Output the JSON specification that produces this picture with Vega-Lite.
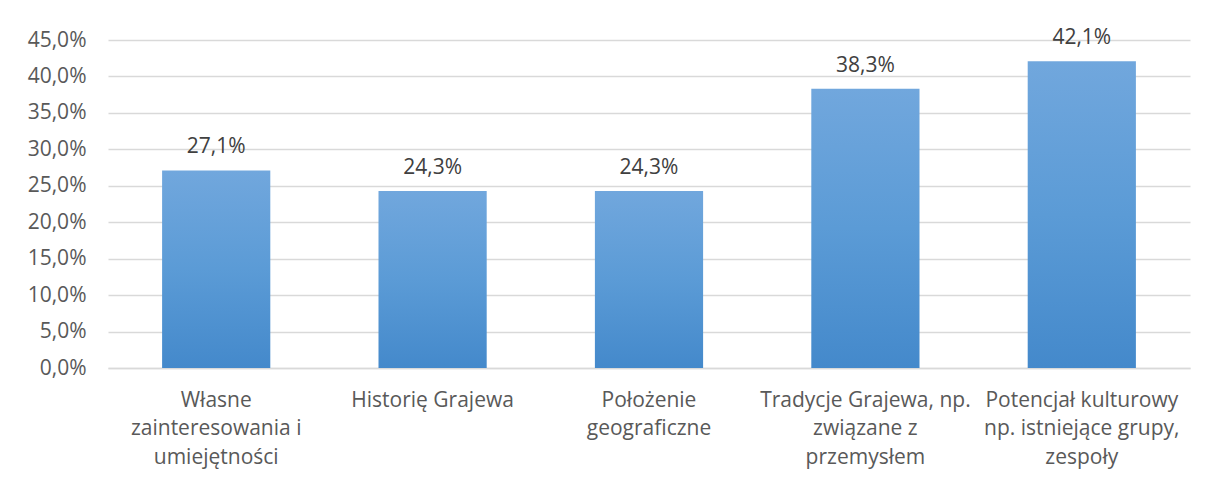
{
  "$schema": "https://vega.github.io/schema/vega-lite/v6.json",
  "width": 1082,
  "height": 328,
  "autosize": {"type": "none"},
  "padding": {"left": 108, "top": 40, "right": 18, "bottom": 114},
  "background": "white",
  "config": {
    "view": {"stroke": null},
    "font": "Open Sans",
    "locale": {
      "number": {"decimal": ",", "thousands": " ", "grouping": [3], "currency": ["", " zł"], "percent": "%"}
    }
  },
  "data": {
    "values": [
      {"kat": "Własne\nzainteresowania i\numiejętności", "v": 0.271},
      {"kat": "Historię Grajewa", "v": 0.243},
      {"kat": "Położenie\ngeograficzne", "v": 0.243},
      {"kat": "Tradycje Grajewa, np.\nzwiązane z\nprzemysłem", "v": 0.383},
      {"kat": "Potencjał kulturowy\nnp. istniejące grupy,\nzespoły", "v": 0.421}
    ]
  },
  "encoding": {
    "x": {
      "field": "kat", "type": "nominal", "sort": null,
      "scale": {"paddingInner": 0.5, "paddingOuter": 0.25},
      "axis": {
        "title": null, "labelAngle": 0, "ticks": false,
        "domainColor": "#d9d9d9", "domainWidth": 1.5,
        "labelColor": "#595959", "labelFontSize": 21, "labelPadding": 21,
        "labelLimit": 300, "labelLineHeight": 28.5,
        "labelExpr": "split(datum.value, '\\n')"
      }
    },
    "y": {
      "field": "v", "type": "quantitative",
      "scale": {"domain": [0, 0.45]},
      "axis": {
        "title": null, "values": [0, 0.05, 0.1, 0.15, 0.2, 0.25, 0.3, 0.35, 0.4, 0.45],
        "format": ".1%", "labelOverlap": false,
        "ticks": false, "domain": false,
        "gridColor": "#d9d9d9", "gridWidth": 1.5,
        "labelColor": "#595959", "labelFontSize": 21, "labelPadding": 22
      }
    }
  },
  "layer": [
    {
      "mark": {
        "type": "bar",
        "color": {
          "gradient": "linear", "x1": 0, "y1": 0, "x2": 0, "y2": 1,
          "stops": [
            {"offset": 0, "color": "#71a7dd"},
            {"offset": 0.5, "color": "#5b9bd6"},
            {"offset": 1, "color": "#4489cb"}
          ]
        }
      }
    },
    {
      "mark": {"type": "text", "baseline": "bottom", "dy": -13, "fontSize": 21, "color": "#404040"},
      "encoding": {
        "text": {"field": "v", "type": "quantitative", "format": ".1%"}
      }
    }
  ]
}
